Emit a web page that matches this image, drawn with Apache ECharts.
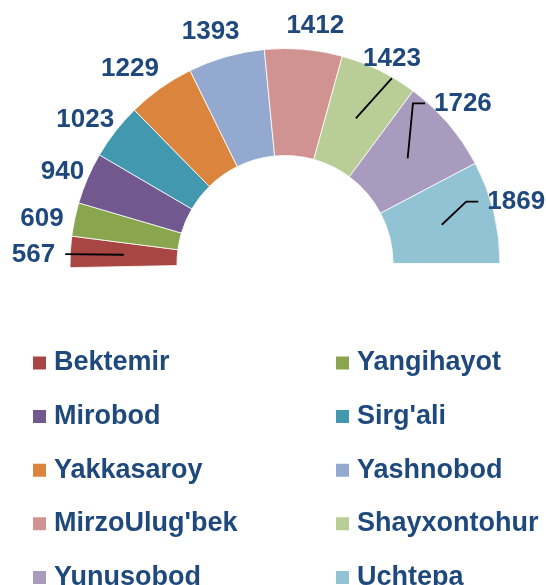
<!DOCTYPE html>
<html>
<head>
<meta charset="utf-8">
<script src="https://cdn.jsdelivr.net/npm/echarts@6/dist/echarts.min.js"></script>
<style>
  html, body { margin: 0; padding: 0; background: #ffffff; }
  #chart { width: 546px; height: 585px; }
</style>
</head>
<body>
<div id="chart"></div>
<script>
// District names and their counts
const districts = ['Bektemir', 'Yangihayot', 'Mirobod', "Sirg'ali", 'Yakkasaroy',
  'Yashnobod', "MirzoUlug'bek", 'Shayxontohur', 'Yunusobod', 'Uchtepa'];
const counts = [567, 609, 940, 1023, 1229, 1393, 1412, 1423, 1726, 1869];

// Slice colours
const sliceColors = ['#A84644', '#89A54E', '#71588F', '#4198AF', '#DB843D',
  '#93A9CF', '#D19392', '#B9CD96', '#A99BBD', '#92C3D5'];

// Label placement relative to each slice: [angle nudge in degrees, distance beyond outer edge]
const labelNudge = [[-1.2, 36.6], [-1.5, 32], [-1.0, 25.6], [-2.3, 30.8], [-3.2, 33.9],
  [-1.9, 28.7], [2.3, 24.6], [1.6, 15.6], [-1.4, 24.3], [-1.1, 24.3]];
// Leader line style per label (null = no line)
const leaderKind = ['left', null, null, null, null, null, null, 'below', 'elbow', 'elbow'];

const textColor = '#1F497D';
const fontFamily = '"Liberation Sans", Arial, Helvetica, sans-serif';

const chart = echarts.init(document.getElementById('chart'), null, { renderer: 'canvas' });

// Shared ring geometry for the coloured ring and the label overlay
const ring = {
  type: 'pie',
  center: [285, 263.5],
  radius: [108, 215],
  startAngle: 181.1,
  endAngle: 0,
  clockwise: true,
  avoidLabelOverlap: false,
  silent: true,
  emphasis: { disabled: true }
};

function sliceLayout(i) {
  const data = chart.getModel().getSeriesByIndex(1).getData();
  return data.getItemLayout(i);
}

function legendFor(names, left) {
  return {
    orient: 'vertical',
    left: left,
    top: 349.5,
    height: 320,
    padding: 0,
    itemWidth: 15,
    itemHeight: 15,
    itemGap: 26.6,
    icon: 'rect',
    selectedMode: false,
    data: names,
    textStyle: {
      color: textColor,
      fontFamily: fontFamily,
      fontWeight: 'bold',
      fontSize: 27,
      lineHeight: 27,
      padding: [0, 0, 0, 2]
    }
  };
}

// Coloured slices
const sliceSeries = Object.assign({}, ring, {
  name: 'slices',
  z: 2,
  itemStyle: { borderColor: '#ffffff', borderWidth: 0.8 },
  label: { show: false },
  labelLine: { show: false },
  data: districts.map((name, i) => ({
    name: name,
    value: counts[i],
    itemStyle: { color: sliceColors[i] }
  }))
});

// Invisible copy of the ring that carries the value labels and leader lines on top
const labelSeries = Object.assign({}, ring, {
  name: 'labels',
  z: 3,
  itemStyle: { color: 'rgba(0,0,0,0)', borderWidth: 0 },
  label: {
    show: true,
    position: 'outside',
    formatter: '{c}',
    color: textColor,
    fontFamily: fontFamily,
    fontWeight: 'bold',
    fontSize: 26
  },
  labelLine: {
    show: false,
    smooth: false,
    lineStyle: { color: '#000000', width: 1.8 }
  },
  labelLayout: function (p) {
    const i = p.dataIndex;
    const lay = sliceLayout(i);
    const mid = (lay.startAngle + lay.endAngle) / 2;
    const a = mid + labelNudge[i][0] * Math.PI / 180;
    const rr = lay.r + labelNudge[i][1];
    const x = lay.cx + rr * Math.cos(a);
    const y = lay.cy + rr * Math.sin(a);
    const w = p.labelRect.width;
    const res = { x: x, y: y, align: 'center', verticalAlign: 'middle' };
    const kind = leaderKind[i];
    if (kind) {
      const rm = (lay.r0 + lay.r) / 2;
      const start = [lay.cx + rm * Math.cos(mid), lay.cy + rm * Math.sin(mid)];
      if (kind === 'left') {
        const end = [x + w / 2 + 10, y - 1];
        res.labelLinePoints = [start, end, end];
      } else if (kind === 'below') {
        const end = [x, y + 19];
        res.labelLinePoints = [start, end, end];
      } else {
        const bend = [x - w / 2 - 21, y];
        const end = [x - w / 2 - 9, y];
        res.labelLinePoints = [start, bend, end];
      }
    }
    return res;
  },
  data: districts.map((name, i) => ({
    name: name,
    value: counts[i],
    labelLine: { show: leaderKind[i] !== null }
  }))
});

const option = {
  animation: false,
  backgroundColor: '#ffffff',
  legend: [
    legendFor(districts.filter((_, i) => i % 2 === 0), 31),
    legendFor(districts.filter((_, i) => i % 2 === 1), 334)
  ],
  series: [sliceSeries, labelSeries]
};

chart.setOption(option);
</script>
</body>
</html>
